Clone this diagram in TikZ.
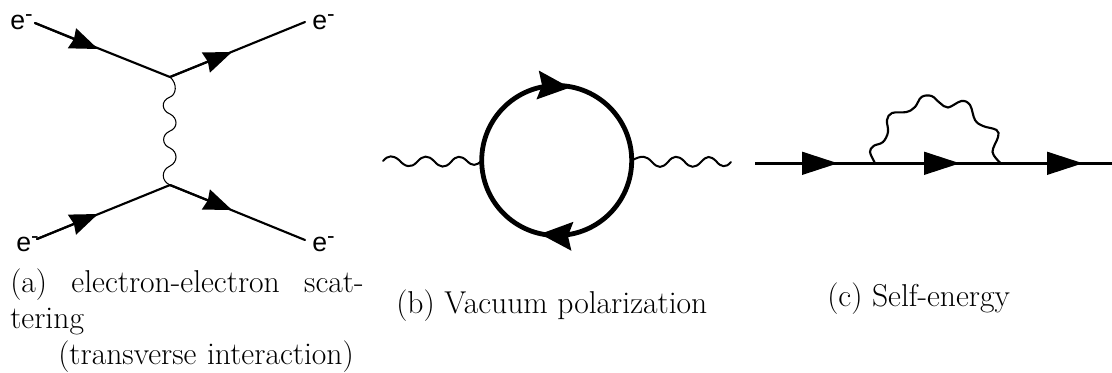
\documentclass[tikz,border=0pt]{standalone}
\usepackage{fontspec}
\usetikzlibrary{arrows.meta}
\newfontfamily\labelfont{Liberation Sans}
\tikzset{
  x=0.75pt,y=-0.75pt,
  fermion/.style={line width=1.6pt,line cap=round},
  head/.style={-{Stealth[length=21pt,width=16pt,inset=1.5pt]}},
  loophead/.style={-{Stealth[length=24pt,width=21pt,inset=3pt]}},
  trihead/.style={-{Triangle[length=27pt,width=17pt]}},
  elabel/.style={inner sep=0pt,anchor=base west,font=\labelfont\fontsize{20}{20}\selectfont},
  caption/.style={inner sep=0pt,anchor=base west,align=left,font=\fontsize{23.7}{27.2}\selectfont},
  loopring/.style={circle,draw,line width=3.6pt,minimum size=112.5pt,inner sep=0pt,outer sep=0pt}
}
\newcommand{\elec}{e\raisebox{0.3em}{\fontsize{17}{17}\selectfont-}}
\begin{document}
\begin{tikzpicture}
\useasboundingbox (0,0) rectangle (1112,372);
% (a)
\coordinate (a1) at (35,23);
\coordinate (a1t) at (98,49);
\coordinate (av) at (170,77);
\coordinate (a2t) at (232,52);
\coordinate (a2) at (305,22);
\coordinate (a3) at (37,239);
\coordinate (a3t) at (98,214);
\coordinate (aw) at (170,185);
\coordinate (a4t) at (232,210);
\coordinate (a4) at (305,240);
\draw[fermion] (a1) -- (av);
\draw[fermion] (av) -- (a2);
\draw[fermion] (a3) -- (aw);
\draw[fermion] (aw) -- (a4);
\draw[fermion,head] (a1) -- (a1t);
\draw[fermion,head] (av) -- (a2t);
\draw[fermion,head] (a3) -- (a3t);
\draw[fermion,head] (aw) -- (a4t);
\draw[line width=0.8pt] (av) .. controls (178,84) and (176,95) .. (170,97)
  .. controls (160,101) and (162,111) .. (170,114)
  .. controls (178,118) and (178,128) .. (170,131)
  .. controls (161,135) and (162,145) .. (170,148)
  .. controls (178,152) and (178,162) .. (170,166)
  .. controls (161,170) and (161,181) .. (aw);
\node[elabel] (e1) at (10,29) {\elec};
\node[elabel] (e2) at (312,29) {\elec};
\node[elabel] (e3) at (16,251) {\elec};
\node[elabel] (e4) at (312,251) {\elec};
% (b)
\node[loopring] (ring) at (556.7,160.5) {};
\coordinate (t1a) at (560,86.8);
\coordinate (t1b) at (570,87.6);
\coordinate (t2a) at (550,234.7);
\coordinate (t2b) at (540,234);
\draw[line width=3.6pt,loophead] (t1a) -- (t1b);
\draw[line width=3.6pt,loophead] (t2a) -- (t2b);
\coordinate (bl) at (383,161);
\draw[line width=1.5pt,line cap=round] (bl) .. controls (388,155) and (393,155) .. (399,160)
  .. controls (405,167) and (411,168.5) .. (417,162)
  .. controls (423,155) and (428,155) .. (434,161)
  .. controls (440,168) and (445,168.5) .. (451,162)
  .. controls (456,155.5) and (461,155) .. (467,161)
  .. controls (472,166) and (476,166.5) .. (ring.west);
\draw[line width=1.5pt,line cap=round] (ring.east) .. controls (642,155) and (646,155.5) .. (652,162)
  .. controls (658,168.5) and (662,168.5) .. (668,162)
  .. controls (673,155.5) and (678,155) .. (684,161)
  .. controls (690,168.5) and (695,168.5) .. (701,162)
  .. controls (707,155.5) and (710,155.5) .. (716,161)
  .. controls (721,167.5) and (726,168) .. (731,162);
% (c)
\coordinate (c0) at (755,163.3);
\coordinate (c1) at (838,163.3);
\coordinate (cv) at (874,163.3);
\coordinate (c2) at (960,163.3);
\coordinate (cw) at (1000,163.3);
\coordinate (c3) at (1083,163.3);
\coordinate (c4) at (1112,163.3);
\draw[line width=2pt] (c0) -- (c4);
\draw[line width=2pt,trihead] (c0) -- (c1);
\draw[line width=2pt,trihead] (cv) -- (c2);
\draw[line width=2pt,trihead] (cw) -- (c3);
\draw[line width=1.6pt,line cap=round] plot[smooth,tension=0.6] coordinates {
  (874.5,162) (870,152) (873.5,146) (883,142) (888,132) (887,120) (892,113)
  (906.5,112) (915,107) (921.5,97) (931.5,96) (940,103) (948,107.5)
  (961.5,101) (970,105) (975,120) (983,126) (996.5,130) (998,137) (992.5,152) (1000,162.5)};
% captions
\node[caption,text width=265pt] (capa) at (10,292) {(a)\hfill electron-electron\hfill scat-\\tering\\\hspace*{36pt}(transverse interaction)};
\node[caption] (capb) at (396,313) {(b) Vacuum polarization};
\node[caption] (capc) at (827,306) {(c) Self-energy};
\end{tikzpicture}
\end{document}
